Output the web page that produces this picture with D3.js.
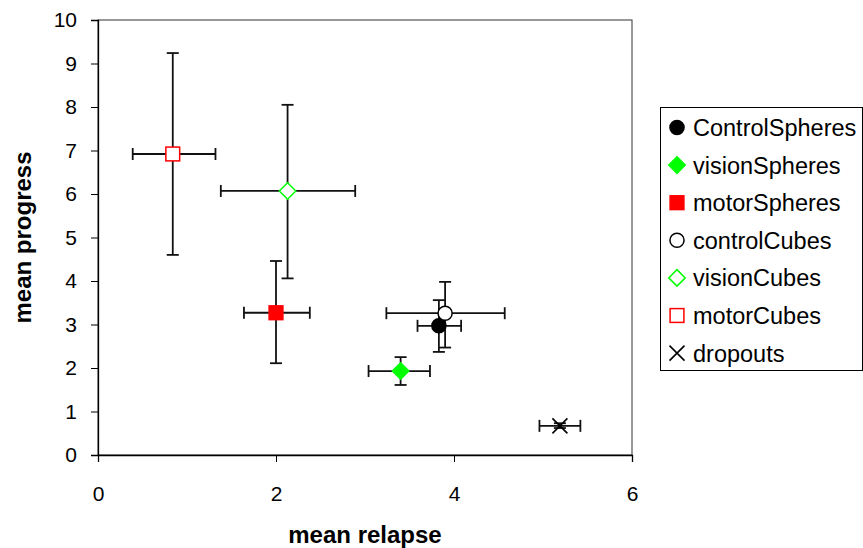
<!DOCTYPE html>
<html><head><meta charset="utf-8">
<script src="https://cdn.jsdelivr.net/npm/d3@7"></script>
<style>body{margin:0;background:#fff;}svg{display:block;font-family:"Liberation Sans",Arial,sans-serif;}</style>
</head><body><svg id="c" width="863" height="548"></svg>
<script>
const seriesNames = ["ControlSpheres","visionSpheres","motorSpheres","controlCubes","visionCubes","motorCubes","dropouts"];
const meanRelapse = [3.83, 3.40, 2.00, 3.90, 2.13, 0.84, 5.19];
const relapseLow  = [3.59, 3.04, 1.64, 3.24, 1.38, 0.39, 4.96];
const relapseHigh = [4.08, 3.73, 2.38, 4.57, 2.89, 1.32, 5.42];
const meanProgress = [2.97, 1.93, 3.27, 3.26, 6.07, 6.92, 0.67];
const progressLow  = [2.37, 1.61, 2.11, 2.47, 4.06, 4.60, 0.62];
const progressHigh = [3.56, 2.25, 4.46, 3.98, 8.05, 9.24, 0.73];
const xTicks = [0, 2, 4, 6];
const yTicks = [0,1,2,3,4,5,6,7,8,9,10];
const markerShape = ["circle","diamond","square","circle","diamond","square","cross"];
const markerFill = ["#000","#00ff00","#ff0000","#fff","#fff","#fff","none"];
const markerStroke = ["#000","#00ff00","#ff0000","#000","#00ff00","#ff0000","#000"];

const svg = d3.select("#c");
const L = 98, R = 632, T = 20, B = 455;
const x = d3.scaleLinear().domain([0,6]).range([L,R]);
const y = d3.scaleLinear().domain([0,10]).range([B,T]);

// frame
svg.append("rect").attr("x",L).attr("y",T).attr("width",R-L).attr("height",B-T)
  .attr("fill","none").attr("stroke","#333").attr("stroke-width",1);

const xAxis = svg.append("g").attr("transform",`translate(0,${B})`)
  .call(d3.axisBottom(x).tickValues(xTicks).tickSize(7).tickPadding(24).tickFormat(d3.format("d")));
const yAxis = svg.append("g").attr("transform",`translate(${L},0)`)
  .call(d3.axisLeft(y).tickValues(yTicks).tickSize(7).tickPadding(14).tickFormat(d3.format("d")));
[xAxis,yAxis].forEach(a=>{
  a.select(".domain").attr("stroke","#000").attr("stroke-width",1.3);
  a.selectAll("line").attr("stroke","#000");
  a.selectAll("text").attr("font-size",21).attr("font-family","Liberation Sans, Arial, sans-serif").attr("fill","#000");
});

svg.append("text").attr("x",(L+R)/2).attr("y",543).attr("text-anchor","middle")
  .attr("font-size",24).attr("font-weight","bold").text("mean relapse");
svg.append("text").attr("transform",`translate(31,${(T+B)/2}) rotate(-90)`).attr("text-anchor","middle")
  .attr("font-size",24).attr("font-weight","bold").text("mean progress");

const data = seriesNames.map((n,i)=>({n,i}));
const cap = 6;
const eb = svg.append("g").attr("stroke","#111").attr("stroke-width",1.8);
data.forEach(({i})=>{
  const cx = x(meanRelapse[i]), cy = y(meanProgress[i]);
  eb.append("line").attr("x1",x(relapseLow[i])).attr("x2",x(relapseHigh[i])).attr("y1",cy).attr("y2",cy);
  eb.append("line").attr("x1",x(relapseLow[i])).attr("x2",x(relapseLow[i])).attr("y1",cy-cap).attr("y2",cy+cap);
  eb.append("line").attr("x1",x(relapseHigh[i])).attr("x2",x(relapseHigh[i])).attr("y1",cy-cap).attr("y2",cy+cap);
  eb.append("line").attr("x1",cx).attr("x2",cx).attr("y1",y(progressLow[i])).attr("y2",y(progressHigh[i]));
  eb.append("line").attr("x1",cx-cap).attr("x2",cx+cap).attr("y1",y(progressLow[i])).attr("y2",y(progressLow[i]));
  eb.append("line").attr("x1",cx-cap).attr("x2",cx+cap).attr("y1",y(progressHigh[i])).attr("y2",y(progressHigh[i]));
});

function drawMarker(g, shape, cx, cy, fill, stroke, s){
  if(shape==="circle"){
    g.append("circle").attr("cx",cx).attr("cy",cy).attr("r",s*0.47).attr("fill",fill).attr("stroke",stroke).attr("stroke-width",1.5);
  } else if(shape==="square"){
    const h = s*0.46;
    g.append("rect").attr("x",cx-h).attr("y",cy-h).attr("width",2*h).attr("height",2*h).attr("fill",fill).attr("stroke",stroke).attr("stroke-width",1.5);
  } else if(shape==="diamond"){
    const h = s*0.55;
    g.append("path").attr("d",`M${cx},${cy-h}L${cx+h},${cy}L${cx},${cy+h}L${cx-h},${cy}Z`).attr("fill",fill).attr("stroke",stroke).attr("stroke-width",1.5);
  } else {
    const h = s*0.5;
    g.append("path").attr("d",`M${cx-h},${cy-h}L${cx+h},${cy+h}M${cx-h},${cy+h}L${cx+h},${cy-h}`).attr("stroke",stroke).attr("stroke-width",1.6).attr("fill","none");
  }
}

const mk = svg.append("g");
data.forEach(({i})=>{
  drawMarker(mk, markerShape[i], x(meanRelapse[i]), y(meanProgress[i]), markerFill[i], markerStroke[i], 15);
});

// legend
const lg = svg.append("g");
lg.append("rect").attr("x",660.5).attr("y",107.5).attr("width",202).attr("height",263).attr("fill","#fff").attr("stroke","#000").attr("stroke-width",1);
data.forEach(({n,i})=>{
  const ly = 127.5 + i*37.6;
  drawMarker(lg, markerShape[i], 677, ly, markerFill[i], markerStroke[i], 15);
  lg.append("text").attr("x",693).attr("y",ly+8.5).attr("font-size",23.5).attr("fill","#000").text(n);
});
</script></body></html>
